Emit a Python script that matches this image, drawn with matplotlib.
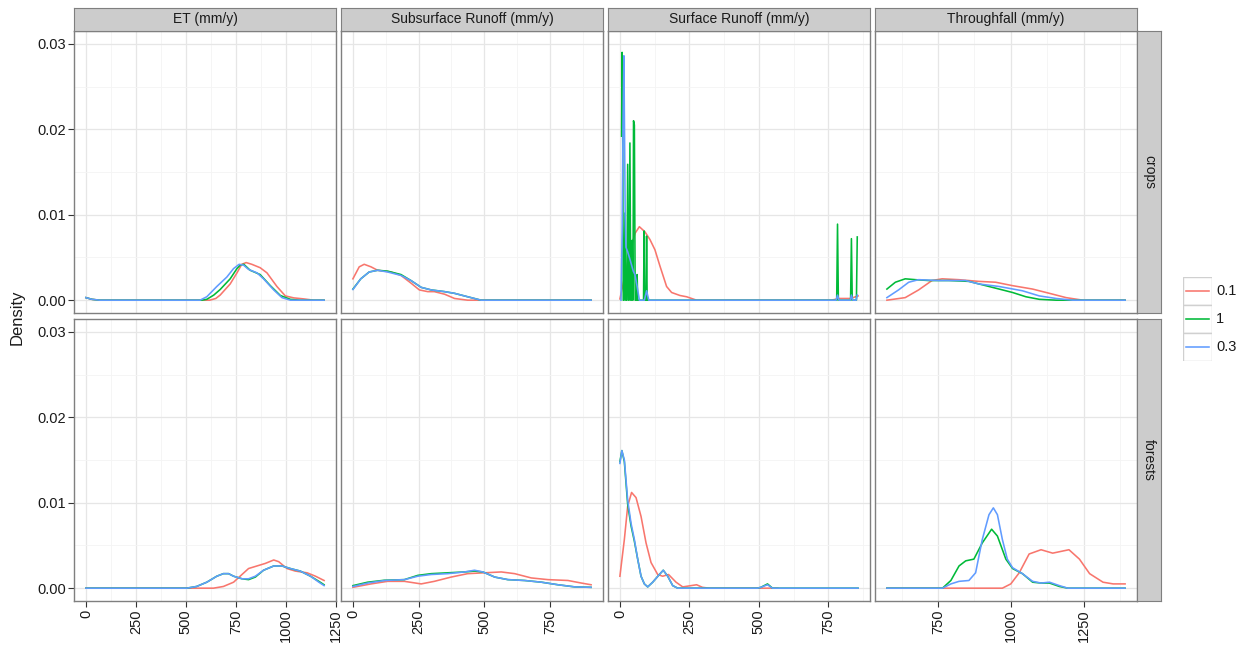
import matplotlib.pyplot as plt
from matplotlib.patches import Rectangle

plt.rcParams['font.family'] = ['Liberation Sans', 'DejaVu Sans']

W, H = 1247, 652

variables = ["ET (mm/y)", "Subsurface Runoff (mm/y)", "Surface Runoff (mm/y)", "Throughfall (mm/y)"]
landuses = ["crops", "forests"]
levels = ["0.1", "1", "0.3"]
level_colors = ["#F8766D", "#00BA38", "#619CFF"]
x_ticks = [[0, 250, 500, 750, 1000, 1250], [0, 250, 500, 750], [0, 250, 500, 750], [750, 1000, 1250]]
y_ticks = [0.00, 0.01, 0.02, 0.03]

# density curves: (value, density)
et_crops_01 = [(0, 0.0003), (30, 0.0001), (69, 0.0), (620, 0.0), (650, 0.0002), (672, 0.0006),
               (722, 0.0019), (756, 0.0032), (780, 0.0042), (802, 0.0044), (830, 0.0042),
               (872, 0.0038), (906, 0.0032), (956, 0.0016), (998, 0.0005), (1040, 0.00027),
               (1090, 0.00015), (1140, 0.0), (1192, 0.0)]
et_crops_1 = [(0, 0.0003), (30, 0.0001), (69, 0.0), (580, 0.0), (605, 0.0001), (640, 0.0006),
              (672, 0.00125), (722, 0.0025), (756, 0.0037), (772, 0.0041), (790, 0.0042),
              (822, 0.0035), (872, 0.0030), (923, 0.0017), (973, 0.00055), (1023, 0.0001),
              (1070, 0.0), (1192, 0.0)]
et_crops_03 = [(0, 0.0003), (30, 0.0001), (69, 0.0), (571, 0.0), (605, 0.0004), (655, 0.0016),
               (705, 0.0027), (739, 0.0037), (767, 0.0042), (789, 0.0041), (814, 0.0036),
               (856, 0.0032), (889, 0.0025), (940, 0.0012), (981, 0.0003), (1023, 0.0), (1192, 0.0)]

et_forests_01 = [(0, 0.0), (638, 0.0), (688, 0.0002), (739, 0.0007), (781, 0.0016), (814, 0.0023),
                 (856, 0.0026), (898, 0.0029), (940, 0.0033), (965, 0.0031), (1006, 0.0023),
                 (1048, 0.0020), (1107, 0.0018), (1149, 0.0014), (1192, 0.0009)]
et_forests_1 = [(0, 0.0), (504, 0.0), (554, 0.0002), (605, 0.0007), (655, 0.0014), (688, 0.0017),
                (714, 0.0017), (739, 0.0014), (781, 0.0011), (814, 0.0010), (848, 0.0013),
                (889, 0.0021), (940, 0.0026), (981, 0.0026), (1023, 0.0023), (1073, 0.0020),
                (1124, 0.0014), (1166, 0.0008), (1192, 0.0004)]
et_forests_03 = [(0, 0.0), (504, 0.0), (554, 0.0002), (605, 0.0007), (655, 0.0014), (688, 0.0017),
                 (714, 0.0017), (739, 0.0014), (781, 0.0011), (814, 0.0011), (848, 0.0014),
                 (889, 0.0021), (940, 0.0026), (981, 0.0026), (1023, 0.0023), (1073, 0.0020),
                 (1124, 0.0014), (1166, 0.0007), (1192, 0.0003)]

ss_crops_01 = [(0, 0.0025), (24, 0.0039), (43, 0.0042), (69, 0.0039), (94, 0.0035), (145, 0.0033),
               (183, 0.0029), (221, 0.0020), (253, 0.0012), (285, 0.0010), (310, 0.0010),
               (349, 0.0007), (387, 0.0002), (437, 0.0), (907, 0.0)]
ss_crops_1 = [(0, 0.0013), (30, 0.0025), (62, 0.0033), (94, 0.0035), (132, 0.0034), (183, 0.0030),
              (221, 0.0023), (260, 0.0015), (298, 0.0012), (349, 0.0010), (387, 0.0008),
              (437, 0.0004), (488, 0.0), (907, 0.0)]
ss_crops_03 = [(0, 0.00125), (30, 0.0025), (62, 0.0033), (94, 0.0035), (132, 0.0033), (183, 0.0029),
               (221, 0.0023), (260, 0.0015), (298, 0.0012), (349, 0.0010), (387, 0.0008),
               (437, 0.0004), (488, 0.0), (907, 0.0)]

ss_forests_01 = [(0, 0.0001), (69, 0.0005), (132, 0.0008), (196, 0.0008), (260, 0.0005),
                 (310, 0.0008), (374, 0.0013), (437, 0.0017), (501, 0.0018), (565, 0.0019),
                 (616, 0.0017), (679, 0.0012), (743, 0.0010), (819, 0.0009), (870, 0.0006),
                 (907, 0.0004)]
ss_forests_1 = [(0, 0.0003), (56, 0.0007), (120, 0.00093), (196, 0.0010), (247, 0.0015),
                (298, 0.0017), (361, 0.0018), (425, 0.0019), (463, 0.0020), (495, 0.0019),
                (540, 0.0013), (590, 0.0010), (654, 0.0009), (718, 0.0007), (781, 0.0004),
                (845, 0.00015), (907, 0.0001)]
ss_forests_03 = [(0, 0.0002), (56, 0.0006), (120, 0.0009), (196, 0.0010), (247, 0.0014),
                 (298, 0.0016), (361, 0.0017), (425, 0.0019), (463, 0.0021), (495, 0.0019),
                 (540, 0.0013), (590, 0.0010), (654, 0.0009), (718, 0.0007), (781, 0.0004),
                 (845, 0.00015), (907, 0.0001)]

sr_crops_01 = [(0, 0.00015), (9, 0.0015), (18, 0.0030), (36, 0.0056), (54, 0.0078), (70, 0.0086),
               (90, 0.0080), (108, 0.0071), (126, 0.0059), (144, 0.0040), (160, 0.0024),
               (168, 0.0016), (186, 0.0009), (216, 0.00055), (240, 0.0004), (276, 0.0),
               (760, 0.0), (790, 0.0002), (830, 0.0002), (857, 0.0005)]
sr_crops_1 = [(6, 0.0192), (8, 0.0290), (10, 0.0200), (12, 0.0), (15, 0.0), (18, 0.0102), (21, 0.0),
              (25, 0.0), (28, 0.0159), (31, 0.0), (33, 0.0), (36, 0.0184), (39, 0.0), (41, 0.0),
              (44, 0.0070), (46, 0.0), (47, 0.0), (49, 0.0210), (52, 0.0205), (55, 0.0), (60, 0.0),
              (62, 0.0030), (64, 0.0), (85, 0.0), (87, 0.0081), (89, 0.0), (94, 0.0), (96, 0.0075),
              (98, 0.0), (780, 0.0), (783, 0.0089), (786, 0.0), (830, 0.0), (833, 0.0072),
              (836, 0.0), (851, 0.0), (854, 0.0074)]
sr_crops_03 = [(4, 0.0), (8, 0.008), (11, 0.020), (14.4, 0.0286), (16.5, 0.020), (19, 0.010),
               (21.6, 0.0062), (27.6, 0.0057), (36, 0.0048), (48, 0.0034), (54, 0.0030),
               (62, 0.0016), (70, 0.0), (88, 0.0), (96, 0.0011), (104, 0.0), (778, 0.0),
               (783, 0.0006), (788, 0.0), (829, 0.0), (833, 0.0006), (838, 0.0), (850, 0.0),
               (854, 0.0006)]

sr_forests_01 = [(0, 0.0014), (16, 0.0057), (28, 0.0096), (42, 0.0112), (58, 0.0106), (76, 0.0084),
                 (94, 0.0053), (112, 0.0030), (136, 0.0016), (154, 0.0014), (175, 0.0016),
                 (202, 0.0007), (226, 0.00015), (256, 0.0003), (276, 0.0004), (297, 0.0001),
                 (321, 0.0), (568, 0.0)]
sr_forests_1 = [(0, 0.0148), (7, 0.0161), (16, 0.0148), (28, 0.0098), (40, 0.0073), (52, 0.0055),
                (64, 0.0034), (76, 0.0014), (88, 0.0005), (100, 0.00015), (118, 0.0007),
                (142, 0.0016), (156, 0.0021), (172, 0.0014), (190, 0.0003), (208, 0.0), (495, 0.0),
                (507, 0.0001), (531, 0.0005), (549, 0.0), (857, 0.0)]
sr_forests_03 = [(0, 0.0146), (7, 0.0161), (16, 0.0150), (28, 0.0103), (40, 0.0076), (52, 0.0057),
                 (64, 0.0034), (76, 0.0014), (88, 0.0005), (100, 0.00015), (118, 0.0007),
                 (142, 0.0016), (156, 0.0021), (172, 0.0014), (190, 0.0003), (208, 0.0),
                 (495, 0.0), (507, 0.0001), (531, 0.0004), (549, 0.0), (857, 0.0)]

tf_crops_01 = [(574, 0.0), (637, 0.0003), (683, 0.0012), (729, 0.0023), (764, 0.0025), (821, 0.0024),
               (890, 0.0022), (948, 0.0021), (1006, 0.0017), (1075, 0.0013), (1133, 0.0008),
               (1190, 0.0003), (1248, 0.0), (1393, 0.0)]
tf_crops_1 = [(574, 0.0013), (603, 0.0021), (637, 0.0025), (672, 0.0024), (718, 0.0023),
              (787, 0.0023), (856, 0.0022), (902, 0.0018), (960, 0.0013), (1006, 0.0009),
              (1052, 0.0004), (1098, 0.0001), (1156, 0.0), (1393, 0.0)]
tf_crops_03 = [(574, 0.0003), (614, 0.0012), (649, 0.0021), (683, 0.0024), (752, 0.0023),
               (844, 0.0023), (890, 0.0019), (960, 0.0016), (1040, 0.0011), (1098, 0.0005),
               (1156, 0.0002), (1213, 0.0), (1393, 0.0)]

tf_forests_01 = [(574, 0.0), (971, 0.0), (1000, 0.0005), (1029, 0.0018), (1063, 0.0040),
                 (1104, 0.0045), (1144, 0.0041), (1200, 0.0045), (1236, 0.0034), (1271, 0.0017),
                 (1317, 0.0007), (1352, 0.0005), (1393, 0.0005)]
tf_forests_1 = [(574, 0.0), (765, 0.0), (794, 0.0009), (822, 0.0026), (845, 0.0032), (873, 0.0034),
                (902, 0.0053), (934, 0.0069), (954, 0.0061), (983, 0.0034), (1006, 0.0023),
                (1040, 0.0017), (1075, 0.0007), (1104, 0.0006), (1133, 0.0006), (1167, 0.0002),
                (1196, 0.0), (1393, 0.0)]
tf_forests_03 = [(574, 0.0), (765, 0.0), (794, 0.0005), (822, 0.0008), (856, 0.0009), (879, 0.0018),
                 (902, 0.0057), (925, 0.0086), (940, 0.0094), (954, 0.0086), (971, 0.0057),
                 (988, 0.0034), (1006, 0.0024), (1040, 0.0017), (1075, 0.0008), (1104, 0.0006),
                 (1133, 0.0007), (1167, 0.0003), (1196, 0.0), (1393, 0.0)]

curves = {
    (variables[0], "crops"): [et_crops_01, et_crops_1, et_crops_03],
    (variables[0], "forests"): [et_forests_01, et_forests_1, et_forests_03],
    (variables[1], "crops"): [ss_crops_01, ss_crops_1, ss_crops_03],
    (variables[1], "forests"): [ss_forests_01, ss_forests_1, ss_forests_03],
    (variables[2], "crops"): [sr_crops_01, sr_crops_1, sr_crops_03],
    (variables[2], "forests"): [sr_forests_01, sr_forests_1, sr_forests_03],
    (variables[3], "crops"): [tf_crops_01, tf_crops_1, tf_crops_03],
    (variables[3], "forests"): [tf_forests_01, tf_forests_1, tf_forests_03],
}


def box(l, t, r, b):
    """Pixel rectangle -> figure fraction rectangle."""
    return [l / W, 1 - b / H, (r - l) / W, (b - t) / H]


TEXT = "#1a1a1a"
BORDER = "#7F7F7F"
STRIP = "#CCCCCC"

fig = plt.figure(figsize=(W / 100, H / 100), dpi=100)

col_left = [74, 341, 608, 875]
row_top = [31, 319]
pw, ph = 262, 282

for j, var in enumerate(variables):
    xs_all = [p[0] for lu in landuses for c in curves[(var, lu)] for p in c]
    lo, hi = min(xs_all), max(xs_all)
    pad = 0.05 * (hi - lo)
    xlim = (lo - pad, hi + pad)
    ticks = x_ticks[j]
    minor = [t + 125 for t in range(ticks[0] - 250, ticks[-1] + 250, 250)]
    minor = [m for m in minor if xlim[0] <= m <= xlim[1]]

    for i, lu in enumerate(landuses):
        l, t = col_left[j], row_top[i]
        ax = fig.add_axes(box(l, t, l + pw, t + ph))
        for pts, color in zip(curves[(var, lu)], level_colors):
            xs, ys = zip(*pts)
            ax.plot(xs, ys, color=color, lw=1.15, solid_joinstyle='round')
        ax.set_xlim(*xlim)
        ax.set_ylim(-0.0015, 0.0315)
        ax.set_xticks(ticks)
        ax.set_xticks(minor, minor=True)
        ax.set_yticks(y_ticks)
        ax.set_yticks([0.005, 0.015, 0.025], minor=True)
        ax.grid(which='major', color='#E6E6E6', lw=0.9)
        ax.grid(which='minor', color='#F4F4F4', lw=0.6)
        ax.set_axisbelow(True)
        for s in ax.spines.values():
            s.set_color(BORDER)
            s.set_linewidth(1.0)
        ax.tick_params(which='minor', length=0)
        ax.tick_params(which='major', length=4, width=0.8, color='#333333',
                       labelsize=10.5, labelcolor=TEXT, pad=2)
        if i == 1:
            ax.set_xticklabels([str(v) for v in ticks], rotation=90)
        else:
            ax.tick_params(axis='x', length=0, labelbottom=False)
        if j == 0:
            ax.set_yticklabels([f"{v:.2f}" for v in y_ticks])
        else:
            ax.tick_params(axis='y', length=0, labelleft=False)

    # column strip
    sax = fig.add_axes(box(col_left[j], 8, col_left[j] + pw, 31))
    sax.set_facecolor(STRIP)
    sax.set_xticks([])
    sax.set_yticks([])
    for s in sax.spines.values():
        s.set_color(BORDER)
    sax.text(0.5, 0.5, var, ha='center', va='center', fontsize=10, color=TEXT,
             transform=sax.transAxes)

# row strips
for i, lu in enumerate(landuses):
    sax = fig.add_axes(box(1137, row_top[i], 1161, row_top[i] + ph))
    sax.set_facecolor(STRIP)
    sax.set_xticks([])
    sax.set_yticks([])
    for s in sax.spines.values():
        s.set_color(BORDER)
    sax.text(0.5, 0.5, lu, ha='center', va='center', rotation=-90, fontsize=10,
             color=TEXT, transform=sax.transAxes)

fig.text(17 / W, 1 - 317 / H, "Density", rotation=90, ha='center', va='center',
         fontsize=12, color=TEXT)

# legend
lax = fig.add_axes(box(1183, 277, 1212, 361))
lax.set_xlim(0, 1)
lax.set_ylim(3, 0)
lax.axis('off')
for k, (lev, color) in enumerate(zip(levels, level_colors)):
    lax.add_patch(Rectangle((0, k), 1, 1, facecolor='white', edgecolor='#D0D0D0', lw=1.0))
    lax.plot([0.12, 0.88], [k + 0.5, k + 0.5], color=color, lw=1.15)
    fig.text(1216 / W, 1 - (277 + 28 * k + 14) / H, lev, ha='left', va='center',
             fontsize=10.5, color=TEXT)

fig.savefig("out.png", dpi=100)
